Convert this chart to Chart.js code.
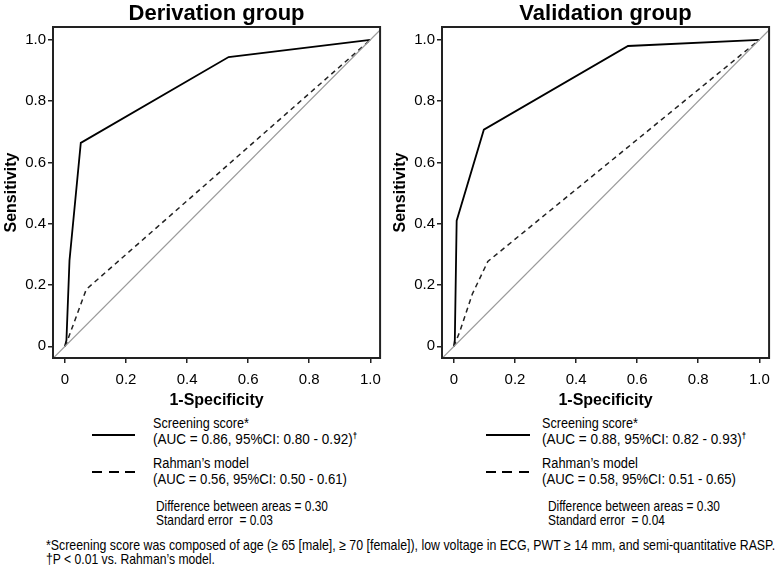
<!DOCTYPE html>
<html>
<head>
<meta charset="utf-8">
<script src="https://cdn.jsdelivr.net/npm/chart.js@4"></script>
<style>
  body { margin: 0; background: #fff; }
  #wrap { position: relative; width: 778px; height: 570px; font-family: "Liberation Sans", Arial, sans-serif; color: #000; }
  .panel { position: absolute; top: 0; width: 389px; height: 410px; }
  .t { position: absolute; white-space: nowrap; line-height: 1; transform-origin: 0 0; }
  .big { font-size: 15.5px; }
  .small { font-size: 14.5px; }
  .foot { font-size: 14.5px; }
  .t sup { font-size: 9px; font-weight: bold; vertical-align: 5px; line-height: 0; }
  .solid { position: absolute; height: 2px; background: #000; }
  .dash { position: absolute; height: 2px; background: repeating-linear-gradient(to right, #000 0 10px, transparent 10px 16.5px); }
</style>
</head>
<body>
<div id="wrap">
  <div class="panel" style="left:0"><canvas id="left" width="389" height="410"></canvas></div>
  <div class="panel" style="left:389px"><canvas id="right" width="389" height="410"></canvas></div>

  <div class="solid" style="left:92px; top:434px; width:43px"></div>
  <div class="t big" style="left:153px; top:415px" data-w="96">Screening score*</div>
  <div class="t big" style="left:153px; top:431px" data-w="204">(AUC = 0.86, 95%CI: 0.80 - 0.92)<sup>†</sup></div>
  <div class="dash" style="left:92px; top:471px; width:43px"></div>
  <div class="t big" style="left:153px; top:455px" data-w="96">Rahman’s model</div>
  <div class="t big" style="left:153px; top:471px" data-w="194">(AUC = 0.56, 95%CI: 0.50 - 0.61)</div>
  <div class="t small" style="left:156px; top:498.5px" data-w="172">Difference between areas = 0.30</div>
  <div class="t small" style="left:156px; top:512.5px" data-w="117">Standard error&nbsp; = 0.03</div>

  <div class="solid" style="left:486px; top:434px; width:44px"></div>
  <div class="t big" style="left:542px; top:415px" data-w="96">Screening score*</div>
  <div class="t big" style="left:542px; top:431px" data-w="204">(AUC = 0.88, 95%CI: 0.82 - 0.93)<sup>†</sup></div>
  <div class="dash" style="left:486px; top:471px; width:44px"></div>
  <div class="t big" style="left:542px; top:455px" data-w="96">Rahman’s model</div>
  <div class="t big" style="left:542px; top:471px" data-w="194">(AUC = 0.58, 95%CI: 0.51 - 0.65)</div>
  <div class="t small" style="left:548px; top:498.5px" data-w="172">Difference between areas = 0.30</div>
  <div class="t small" style="left:548px; top:512.5px" data-w="117">Standard error&nbsp; = 0.04</div>

  <div class="t foot" style="left:46px; top:537.5px" data-w="729">*Screening score was composed of age (≥ 65 [male], ≥ 70 [female]), low voltage in ECG, PWT ≥ 14 mm, and semi-quantitative RASP.</div>
  <div class="t foot" style="left:46px; top:551.5px" data-w="169">†P &lt; 0.01 vs. Rahman’s model.</div>
</div>
<script>
// ROC points (x = 1-specificity, y = sensitivity)
const derivScreenFpr = [0, 0.005, 0.015, 0.052, 0.536, 1];
const derivScreenTpr = [0, 0.02, 0.28, 0.664, 0.944, 1];
const derivRahmanFpr = [0, 0.005, 0.07, 1];
const derivRahmanTpr = [0, 0.01, 0.186, 1];

const validScreenFpr = [0, 0.003, 0.009, 0.098, 0.57, 1];
const validScreenTpr = [0, 0.02, 0.41, 0.707, 0.98, 1];
const validRahmanFpr = [0, 0.02, 0.06, 0.111, 1];
const validRahmanTpr = [0, 0.05, 0.17, 0.277, 1];

// chance line y = x, runs past the frame and gets clipped
const diagX = [-0.1, 1.1];
const diagY = [-0.1, 1.1];

const tickValues = [0, 0.2, 0.4, 0.6, 0.8, 1.0];
const tickLabels = ['0', '0.2', '0.4', '0.6', '0.8', '1.0'];

const FONT = '"Liberation Sans", Arial, sans-serif';

function pts(xs, ys) {
  return xs.map((x, i) => ({x: x, y: ys[i]}));
}

const framePlugin = {
  id: 'frame',
  afterDatasetsDraw(chart) {
    const a = chart.chartArea;
    const ctx = chart.ctx;
    ctx.save();
    ctx.strokeStyle = '#222';
    ctx.lineWidth = 2;
    ctx.strokeRect(a.left, a.top, a.right - a.left, a.bottom - a.top);
    ctx.restore();
  }
};

function setTicks(scale) {
  scale.ticks = tickValues.map(v => ({value: v}));
}

function makeChart(id, title, sFpr, sTpr, rFpr, rTpr) {
  return new Chart(document.getElementById(id), {
    type: 'scatter',
    data: {
      datasets: [
        {
          data: pts(diagX, diagY),
          showLine: true, borderColor: '#9a9a9a', borderWidth: 1.3,
          pointRadius: 0, clip: 0
        },
        {
          data: pts(rFpr, rTpr),
          showLine: true, borderColor: '#222', borderWidth: 1.5,
          borderDash: [5, 4], pointRadius: 0, clip: 0
        },
        {
          data: pts(sFpr, sTpr),
          showLine: true, borderColor: '#000', borderWidth: 1.8,
          pointRadius: 0, clip: 0
        }
      ]
    },
    options: {
      responsive: false,
      animation: false,
      layout: { padding: { top: 0.6, right: 6, bottom: 0, left: 0 } },
      plugins: {
        legend: { display: false },
        tooltip: { enabled: false },
        title: {
          display: true, text: title, fullSize: false, color: '#000',
          font: { family: FONT, size: 22, weight: 'bold', lineHeight: 1.2 },
          padding: { top: 0, bottom: 0 }
        }
      },
      scales: {
        x: {
          type: 'linear', min: -0.039, max: 1.032,
          afterBuildTicks: setTicks,
          afterFit: s => { s.height = 52; },
          grid: { drawOnChartArea: false, drawTicks: true, tickLength: 5, color: '#222', lineWidth: 1.5 },
          border: { display: false },
          ticks: {
            padding: 8, color: '#000', maxRotation: 0,
            font: { family: FONT, size: 15 },
            callback: (v, i) => tickLabels[i]
          },
          title: {
            display: true, text: '1-Specificity', color: '#000',
            font: { family: FONT, size: 16, weight: 'bold', lineHeight: 1.2 },
            padding: { top: 0, bottom: 0 }
          }
        },
        y: {
          type: 'linear', min: -0.038, max: 1.042,
          afterBuildTicks: setTicks,
          afterFit: s => { s.width = 53; },
          grid: { drawOnChartArea: false, drawTicks: true, tickLength: 5, color: '#222', lineWidth: 1.5 },
          border: { display: false },
          ticks: {
            padding: 2, color: '#000',
            font: { family: FONT, size: 15 },
            callback: (v, i) => tickLabels[i]
          },
          title: {
            display: true, text: 'Sensitivity', color: '#000',
            font: { family: FONT, size: 16, weight: 'bold', lineHeight: 1.2 },
            padding: { top: 2, bottom: 0 }
          }
        }
      }
    },
    plugins: [framePlugin]
  });
}

makeChart('left', 'Derivation group', derivScreenFpr, derivScreenTpr, derivRahmanFpr, derivRahmanTpr);
makeChart('right', 'Validation group', validScreenFpr, validScreenTpr, validRahmanFpr, validRahmanTpr);

// squeeze legend/footnote text to the widths seen in the figure
document.querySelectorAll('.t[data-w]').forEach(el => {
  const w = el.getBoundingClientRect().width;
  const target = parseFloat(el.dataset.w);
  el.style.transform = 'scaleX(' + (target / w).toFixed(3) + ')';
});
</script>
</body>
</html>
